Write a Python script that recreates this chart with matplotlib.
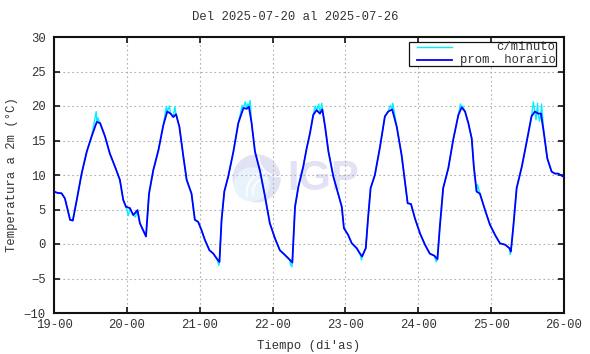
import matplotlib
matplotlib.use("Agg")
import matplotlib.pyplot as plt
from matplotlib.patches import Ellipse, Rectangle, Arc
import numpy as np

# promedio horario: (hora desde 19-00, temperatura)
horas = [0, 1.2, 2.5, 3.6, 5.3, 6.2, 7.5, 9.1, 10.8, 12.4, 14.1, 15.2, 16.8, 18.4, 20.1,
         21.7, 22.8, 23.7, 25.0, 26.1, 27.5, 28.3, 30.3, 31.3, 32.7, 34.4, 36.0, 37.3,
         38.4, 39.3, 40.2, 41.3, 42.6, 43.7, 45.3, 46.4, 47.5, 48.6, 49.7, 51.2, 52.5,
         53.6, 54.5, 55.2, 56.1, 57.4, 59.1, 60.7, 62.4, 63.5, 64.2, 65.1, 66.2, 67.9,
         69.5, 71.1, 72.8, 74.4, 76.1, 77.7, 78.5, 79.4, 80.5, 82.1, 83.2, 84.3, 85.4,
         86.5, 87.6, 88.4, 89.3, 90.4, 92.0, 93.6, 94.8, 95.5, 96.9, 98.1, 99.7, 100.8,
         101.5, 102.7, 103.5, 104.3, 105.7, 107.4, 109.0, 110.1, 111.4, 112.9, 114.5,
         116.5, 117.6, 118.9, 120.6, 122.2, 123.8, 125.3, 126.3, 127.1, 128.2, 129.9,
         131.5, 133.2, 134.3, 135.4, 136.5, 137.6, 138.3, 139.2, 140.3, 142.0, 143.6,
         145.3, 146.9, 148.6, 150.0, 150.5, 151.3, 152.4, 154.1, 155.7, 157.3, 158.4,
         159.5, 160.4, 161.4, 162.5, 163.9, 165.0, 166.1, 168.0]
temp = [7.6, 7.4, 7.35, 6.6, 3.5, 3.4, 6.4, 10.2, 13.4, 15.6, 17.7, 17.5, 15.6, 13.1, 11.2,
        9.3, 6.4, 5.4, 5.2, 4.2, 4.9, 3.0, 1.1, 7.3, 10.7, 13.6, 17.2, 19.2,
        18.9, 18.4, 18.8, 17.0, 12.7, 9.3, 7.3, 3.5, 3.2, 2.0, 0.6, -0.9, -1.4,
        -2.1, -2.6, 3.5, 7.6, 9.8, 13.4, 17.5, 19.7, 19.6, 19.9, 17.5, 13.4, 10.5,
        6.9, 3.0, 0.8, -0.9, -1.6, -2.3, -2.7, 5.4, 8.3, 11.2, 13.8, 16.0, 18.7,
        19.4, 18.9, 19.5, 17.0, 13.4, 9.8, 7.3, 5.4, 2.3, 1.3, 0.1, -0.6, -1.4,
        -1.8, -0.6, 4.0, 8.1, 10.0, 14.1, 18.5, 19.2, 19.5, 17.0, 12.9,
        5.9, 5.8, 3.7, 1.5, -0.1, -1.4, -1.7, -2.2, 2.5, 8.1, 11.0,
        15.1, 18.7, 19.8, 19.2, 17.5, 15.3, 11.2, 7.6, 7.3, 4.9, 2.8,
        1.3, 0.1, -0.1, -0.6, -1.1, 2.5, 8.1, 11.2, 14.8, 18.5, 19.2,
        18.9, 18.9, 16.0, 12.4, 10.5, 10.2, 10.2, 9.7]

# picos visibles de los datos por minuto
pico_h = [13.9, 14.4, 24.5, 26.8, 37.0, 38.0, 39.8, 54.3, 62.0, 63.0, 63.8, 64.6, 77.9,
          78.4, 86.0, 87.2, 88.2, 101.3, 110.8, 111.6, 125.9, 133.9, 134.6, 139.5,
          150.3, 157.9, 158.8, 159.3, 159.9, 160.6]
pico_t = [19.2, 18.3, 4.1, 3.9, 19.9, 20.0, 19.9, -3.1, 20.1, 20.6, 20.3, 20.8, -3.0,
          -3.3, 20.0, 20.3, 20.4, -2.3, 20.1, 20.4, -2.6, 20.3, 20.0, 8.6,
          -1.5, 20.6, 18.0, 20.4, 17.8, 20.3]

dias = ["19-00", "20-00", "21-00", "22-00", "23-00", "24-00", "25-00", "26-00"]
yticks = [-10, -5, 0, 5, 10, 15, 20, 25, 30]

W, H = 590, 354
fx = lambda p: p / W
fy = lambda p: 1 - p / H

plt.rcParams['font.family'] = ['Liberation Mono', 'DejaVu Sans Mono']
tc = '#333333'

fig = plt.figure(figsize=(5.9, 3.54), dpi=100)
ax = fig.add_axes([fx(54), fy(313), fx(564) - fx(54), fy(37) - fy(313)])

# minuto: hora + picos, ordenado
mh = np.array(horas + pico_h)
mt = np.array(temp + pico_t)
o = np.argsort(mh)
ax.plot(mh[o] / 24, mt[o], color='#00f0ff', lw=1.0, zorder=2)
ax.plot(np.array(horas) / 24, temp, color='#0000ff', lw=1.3, zorder=3)

ax.set_xlim(0, 7)
ax.set_ylim(-10, 30)
ax.set_xticks(range(8))
ax.set_xticklabels(dias)
ax.set_yticks(yticks)
ax.tick_params(direction='in', length=4.5, width=1.2, top=True, right=True,
               labelsize=8.8, labelcolor=tc, colors='#111111')
ax.tick_params(axis='y', pad=6)
ax.tick_params(axis='x', pad=4)
for t in ax.get_xticklabels() + ax.get_yticklabels():
    t.set_color(tc)
for s in ax.spines.values():
    s.set_linewidth(1.5)
    s.set_color('#111111')
ax.set_axisbelow(True)
ax.grid(True, color='#b0b0b0', lw=0.8, linestyle=(0, (1.5, 2.5)))

# marca de agua IGP
tf = fig.transFigure
cx, cy, r = 256.7, 178.3, 24
ax.add_patch(Ellipse((fx(cx), fy(cy)), 2 * r / W, 2 * r / H, transform=tf,
                     color='#e2e2f5', zorder=0.1, lw=0))
ax.add_patch(Ellipse((fx(cx - 5), fy(cy + 6)), 36 / W, 34 / H, transform=tf,
                     color='#e8f3fc', zorder=0.15, lw=0))
for rr in (14, 20):
    ax.add_patch(Arc((fx(cx + 10), fy(cy + 14)), 2 * rr / W, 2 * rr / H,
                     theta1=90, theta2=200, transform=tf, color='white', lw=1.2, zorder=0.2))
ax.add_patch(Arc((fx(cx + 22), fy(cy - 22)), 40 / W, 40 / H,
                 theta1=180, theta2=280, transform=tf, color='white', lw=1.2, zorder=0.2))
ax.text(fx(323), fy(190), 'IGP', transform=tf, ha='center', va='baseline',
        fontsize=30, fontweight='bold', family='Liberation Sans', color='#e2e2f4', zorder=0.1)

# leyenda
ax.add_patch(Rectangle((fx(409.3), fy(66)), fx(556) - fx(409.3), fy(41.7) - fy(66),
                       transform=tf, facecolor='white', edgecolor='#111111', lw=0.9, zorder=4))
ax.plot([fx(416.7), fx(451.7)], [fy(46.7)] * 2, transform=tf, color='#00f0ff', lw=1.0, zorder=5)
ax.plot([fx(416.7), fx(451.7)], [fy(60)] * 2, transform=tf, color='#0000ff', lw=1.3, zorder=5)
ax.text(fx(555.5), fy(46.7), 'c/minuto', transform=tf, ha='right', va='center',
        fontsize=8.8, color=tc, zorder=5)
ax.text(fx(555.5), fy(60), 'prom. horario', transform=tf, ha='right', va='center',
        fontsize=8.8, color=tc, zorder=5)

fig.text(0.5, fy(17), 'Del 2025-07-20 al 2025-07-26', ha='center', va='center',
         fontsize=8.8, color=tc)
fig.text(fx(309), fy(346.5), "Tiempo (di'as)", ha='center', va='center',
         fontsize=8.8, color=tc)
fig.text(fx(12.5), fy(175), 'Temperatura a 2m (°C)', ha='center', va='center',
         rotation=90, fontsize=8.8, color=tc)

fig.savefig('out.png', dpi=100)
